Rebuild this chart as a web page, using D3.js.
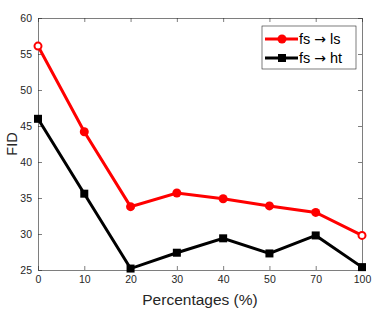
<!DOCTYPE html>
<html>
<head>
<meta charset="utf-8">
<script src="https://cdn.jsdelivr.net/npm/d3@7"></script>
<style>
  body { margin: 0; background: #fff; }
  text { font-family: "Liberation Sans", Arial, sans-serif; }
</style>
</head>
<body>
<div id="chart"></div>
<script>
// chart data
var percentages = ["0", "10", "20", "30", "40", "50", "70", "100"];
var fs_ls = [56.1, 44.2, 33.8, 35.7, 34.9, 33.9, 33.0, 29.8];
var fs_ht = [46.0, 35.6, 25.2, 27.4, 29.4, 27.3, 29.8, 25.4];
var yTicks = [25, 30, 35, 40, 45, 50, 55, 60];

var margin = { top: 18, right: 19, bottom: 42, left: 38 },
    width = 381 - margin.left - margin.right,
    height = 312 - margin.top - margin.bottom;

var svg = d3.select("#chart")
    .append("svg")
    .attr("width", 381)
    .attr("height", 312)
    .append("g")
    .attr("transform", "translate(" + margin.left + "," + margin.top + ")");

var x = d3.scalePoint()
    .domain(percentages)
    .range([0, width]);

var y = d3.scaleLinear()
    .domain([25, 60])
    .range([height, 0]);

var axisColor = "#262626";

// bottom + left axes with labels, inward ticks
var xAxis = svg.append("g")
    .attr("transform", "translate(0," + height + ")")
    .call(d3.axisBottom(x).tickSize(-4).tickSizeOuter(0).tickPadding(6));
var yAxis = svg.append("g")
    .call(d3.axisLeft(y).tickValues(yTicks).tickSize(-4).tickSizeOuter(0).tickPadding(6));
// top + right axes, ticks only
var xTop = svg.append("g")
    .call(d3.axisTop(x).tickSize(-4).tickSizeOuter(0).tickFormat(""));
var yRight = svg.append("g")
    .attr("transform", "translate(" + width + ",0)")
    .call(d3.axisRight(y).tickValues(yTicks).tickSize(-4).tickSizeOuter(0).tickFormat(""));

[xAxis, yAxis, xTop, yRight].forEach(function (g) {
    g.selectAll("path, line").attr("stroke", axisColor).attr("stroke-width", 0.6);
    g.selectAll("text").attr("fill", axisColor).style("font-size", "10.5px")
        .style("font-family", "'Liberation Sans', Arial, sans-serif");
});

// axis titles
svg.append("text")
    .attr("x", width / 2)
    .attr("y", height + 35)
    .attr("text-anchor", "middle")
    .attr("fill", axisColor)
    .style("font-size", "15.5px")
    .text("Percentages (%)");

svg.append("text")
    .attr("transform", "translate(-21," + (height / 2) + ") rotate(-90)")
    .attr("text-anchor", "middle")
    .attr("fill", axisColor)
    .style("font-size", "14.5px")
    .text("FID");

var line = d3.line()
    .x(function (d, i) { return x(percentages[i]); })
    .y(function (d) { return y(d); });

// fs -> ls (red, circles)
svg.append("path")
    .datum(fs_ls)
    .attr("fill", "none")
    .attr("stroke", "#ff0000")
    .attr("stroke-width", 3)
    .attr("d", line);

svg.selectAll(".dot")
    .data(fs_ls)
    .enter().append("circle")
    .attr("cx", function (d, i) { return x(percentages[i]); })
    .attr("cy", function (d) { return y(d); })
    .attr("r", function (d, i) { return (i == 0 || i == fs_ls.length - 1) ? 3.5 : 4.5; })
    .attr("fill", function (d, i) { return (i == 0 || i == fs_ls.length - 1) ? "#fff" : "#ff0000"; })
    .attr("stroke", "#ff0000")
    .attr("stroke-width", function (d, i) { return (i == 0 || i == fs_ls.length - 1) ? 2 : 0; });

// fs -> ht (black, squares)
svg.append("path")
    .datum(fs_ht)
    .attr("fill", "none")
    .attr("stroke", "#000")
    .attr("stroke-width", 3)
    .attr("d", line);

svg.selectAll(".sq")
    .data(fs_ht)
    .enter().append("rect")
    .attr("x", function (d, i) { return x(percentages[i]) - 4; })
    .attr("y", function (d) { return y(d) - 4; })
    .attr("width", 8)
    .attr("height", 8)
    .attr("fill", "#000");

// legend
var legend = svg.append("g")
    .attr("transform", "translate(" + (262 - margin.left) + "," + (26 - margin.top) + ")");

legend.append("rect")
    .attr("width", 94)
    .attr("height", 43)
    .attr("fill", "#fff")
    .attr("stroke", axisColor)
    .attr("stroke-width", 0.6);

var entries = [
    { from: "fs", to: "ls", color: "#ff0000", shape: "circle" },
    { from: "fs", to: "ht", color: "#000", shape: "square" }
];

entries.forEach(function (e, i) {
    var cy = 13 + i * 19;
    legend.append("line")
        .attr("x1", 3).attr("x2", 36)
        .attr("y1", cy).attr("y2", cy)
        .attr("stroke", e.color)
        .attr("stroke-width", 3);
    if (e.shape == "circle") {
        legend.append("circle").attr("cx", 20).attr("cy", cy).attr("r", 4.5).attr("fill", e.color);
    } else {
        legend.append("rect").attr("x", 16).attr("y", cy - 4).attr("width", 8).attr("height", 8).attr("fill", e.color);
    }
    var t = legend.append("text")
        .attr("x", 37)
        .attr("y", cy + 5)
        .attr("fill", "#000")
        .style("font-size", "14.5px");
    t.append("tspan").text(e.from);
    t.append("tspan").attr("dx", 4)
        .style("font-family", "'DejaVu Sans', sans-serif")
        .style("font-size", "14px")
        .text("\u2192");
    t.append("tspan").attr("dx", 4).text(e.to);
});
</script>
</body>
</html>
